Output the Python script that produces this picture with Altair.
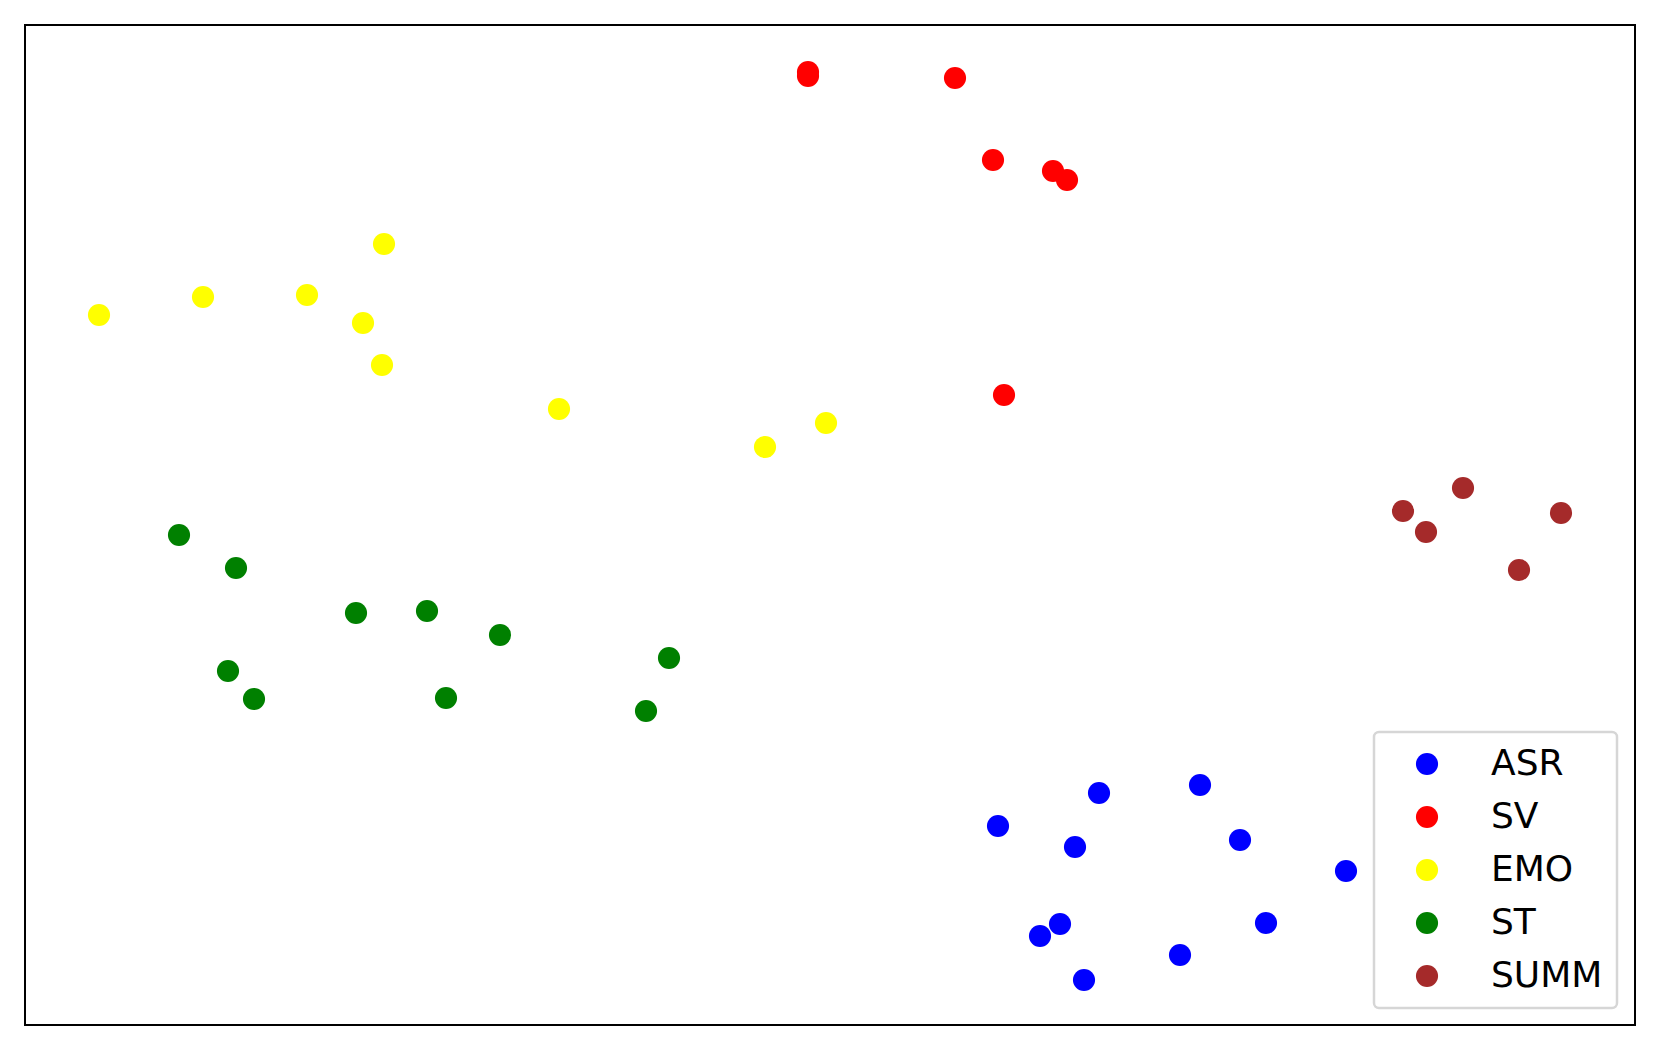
import altair as alt
import pandas as pd

categories = ["ASR", "SV", "EMO", "ST", "SUMM"]
colors = ["#0000ff", "#ff0000", "#ffff00", "#008000", "#a52a2a"]

asr_x = [97.3, 107.4, 117.5, 105.0, 121.5, 132.1, 103.5, 101.5, 124.1, 115.5, 105.9]
asr_y = [19.9, 23.2, 24.0, 17.8, 18.5, 15.4, 10.1, 8.9, 10.2, 7.0, 4.5]

sv_x = [78.3, 78.3, 93.0, 96.8, 102.8, 104.2, 97.9]
sv_y = [95.3, 94.9, 94.7, 86.5, 85.4, 84.5, 63.0]

emo_x = [7.4, 17.8, 28.2, 33.8, 35.9, 35.7, 53.4, 74.0, 80.1]
emo_y = [71.0, 72.8, 73.0, 70.2, 78.1, 66.0, 61.6, 57.8, 60.2]

st_x = [15.4, 21.1, 33.1, 40.2, 47.5, 20.3, 22.9, 42.1, 64.4, 62.1]
st_y = [49.0, 45.7, 41.2, 41.4, 39.0, 35.4, 32.6, 32.7, 36.7, 31.4]

summ_x = [143.8, 137.8, 140.1, 153.6, 149.4]
summ_y = [53.7, 51.4, 49.3, 51.2, 45.5]

rows = []
order = 0
for cat, xs, ys in [("ASR", asr_x, asr_y), ("SV", sv_x, sv_y), ("EMO", emo_x, emo_y),
                    ("ST", st_x, st_y), ("SUMM", summ_x, summ_y)]:
    for x, y in zip(xs, ys):
        rows.append({"x": x, "y": y, "task": cat, "order": order})
        order += 1
df = pd.DataFrame(rows)

chart = alt.Chart(df).mark_circle(size=490, opacity=1).encode(
    x=alt.X("x:Q", scale=alt.Scale(domain=[0, 161], nice=False, zero=False), axis=None),
    y=alt.Y("y:Q", scale=alt.Scale(domain=[0, 100], nice=False, zero=False), axis=None),
    color=alt.Color(
        "task:N",
        scale=alt.Scale(domain=categories, range=colors),
        legend=alt.Legend(
            title=None,
            orient="none",
            legendX=1349,
            legendY=707,
            symbolType="circle",
            symbolSize=490,
            symbolOpacity=1,
            symbolStrokeWidth=0,
            symbolOffset=21,
            labelFont="DejaVu Sans",
            labelFontSize=36,
            labelColor="black",
            labelOffset=46,
            rowPadding=17,
            padding=14,
            fillColor="white",
        ),
    ),
    order="order:Q",
).properties(
    width=1610,
    height=1000,
    padding={"left": 17, "top": 17, "right": 17, "bottom": 10},
).configure_view(
    stroke="black",
    strokeWidth=2,
).configure_legend(
    strokeColor="#d6d6d6",
    strokeWidth=2.5,
    cornerRadius=5,
)

chart.save("out.html", embed_options={"renderer": "svg", "actions": False})
